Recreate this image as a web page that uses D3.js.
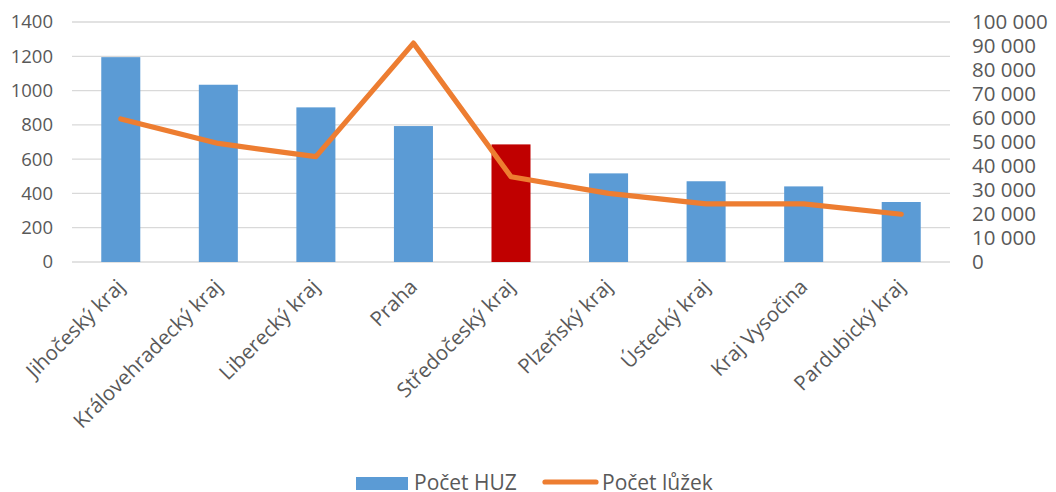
<!DOCTYPE html>
<html>
<head>
<meta charset="utf-8">
<script src="https://cdn.jsdelivr.net/npm/d3@7"></script>
<style>
  body { margin: 0; background: #fff; }
  text { font-family: "Open Sans", sans-serif; fill: #595959; }
</style>
</head>
<body>
<svg id="chart" width="1056" height="492"></svg>
<script>
// regions, number of facilities (HUZ) and number of beds
var regions = ["Jihočeský kraj", "Královehradecký kraj", "Liberecký kraj", "Praha",
  "Středočeský kraj", "Plzeňský kraj", "Ústecký kraj", "Kraj Vysočina", "Pardubický kraj"];
var huz = [1195, 1034, 902, 793, 686, 517, 471, 441, 350];
var beds = [59600, 49400, 43900, 91200, 35500, 28600, 24200, 24200, 19900];
var highlight = "Středočeský kraj";
var leftTicks = [0, 200, 400, 600, 800, 1000, 1200, 1400];
var rightTicks = [0, 10000, 20000, 30000, 40000, 50000, 60000, 70000, 80000, 90000, 100000];
var legendLabels = ["Počet HUZ", "Počet lůžek"];

var svg = d3.select("#chart");
var plotL = 72, plotR = 950, plotT = 22, plotB = 262;

var x = d3.scaleBand().domain(regions).range([plotL, plotR])
  .paddingInner(0.6).paddingOuter(0.3);
var yL = d3.scaleLinear().domain([0, 1400]).range([plotB, plotT]);
var yR = d3.scaleLinear().domain([0, 100000]).range([plotB, plotT]);

// gridlines
svg.append("g").selectAll("line")
  .data(leftTicks)
  .join("line")
    .attr("x1", plotL).attr("x2", plotR)
    .attr("y1", d => yL(d)).attr("y2", d => yL(d))
    .attr("stroke", "#d9d9d9").attr("stroke-width", 1.3);

// left axis labels
svg.append("g").selectAll("text")
  .data(leftTicks)
  .join("text")
    .attr("x", 53).attr("y", d => yL(d))
    .attr("dy", "0.35em")
    .attr("text-anchor", "end")
    .attr("font-size", 18.5)
    .text(d => d);

// right axis labels
var fmt = d => d3.format(",")(d).replace(/,/g, " ");
svg.append("g").selectAll("text")
  .data(rightTicks)
  .join("text")
    .attr("x", 972).attr("y", d => yR(d))
    .attr("dy", "0.35em")
    .attr("font-size", 20.5)
    .text(fmt);

// bars
svg.append("g").selectAll("rect")
  .data(regions)
  .join("rect")
    .attr("x", d => x(d))
    .attr("width", x.bandwidth())
    .attr("y", (d, i) => yL(huz[i]))
    .attr("height", (d, i) => plotB - yL(huz[i]))
    .attr("fill", d => d === highlight ? "#c00000" : "#5b9bd5");

// line
var line = d3.line()
  .x((d, i) => x(regions[i]) + x.bandwidth() / 2)
  .y(d => yR(d));
svg.append("path")
  .datum(beds)
  .attr("d", line)
  .attr("fill", "none")
  .attr("stroke", "#ed7d31")
  .attr("stroke-width", 5.2)
  .attr("stroke-linejoin", "round")
  .attr("stroke-linecap", "round");

// category labels
svg.append("g").selectAll("text")
  .data(regions)
  .join("text")
    .attr("transform", d => `translate(${x(d) + x.bandwidth() / 2},${plotB + 21}) rotate(-45)`)
    .attr("text-anchor", "end")
    .attr("dy", "0.35em")
    .attr("font-size", 20.5)
    .text(d => d);

// legend
var lg = svg.append("g");
lg.append("rect")
  .attr("x", 356).attr("y", 477).attr("width", 52).attr("height", 13)
  .attr("fill", "#5b9bd5");
lg.append("text")
  .attr("x", 414).attr("y", 490).attr("font-size", 21)
  .text(legendLabels[0]);
lg.append("line")
  .attr("x1", 545).attr("x2", 596).attr("y1", 482).attr("y2", 482)
  .attr("stroke", "#ed7d31").attr("stroke-width", 5.2).attr("stroke-linecap", "round");
lg.append("text")
  .attr("x", 602).attr("y", 490).attr("font-size", 21)
  .text(legendLabels[1]);
</script>
</body>
</html>
